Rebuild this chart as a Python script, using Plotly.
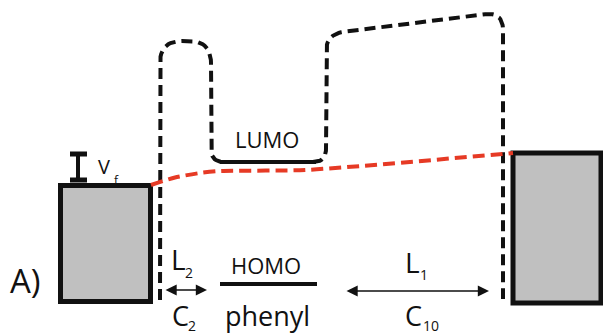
import numpy as np
import plotly.graph_objects as go

# ---- schematic geometry (pixel-like coordinates, y downward) ----
left_box = [60.5, 150.5, 185.5, 301.5]      # x0, x1, y0, y1
right_box = [513, 601, 153, 303]

barrier_x = [160, 160, 211, 211, 326, 326, 503, 503]
barrier_y = [300, 41, 41, 162, 162, 34, 12, 299]
barrier_r = [0, 22, 22, 13, 13, 18, 18, 0]

fermi_x = [151, 175, 200, 220, 305, 513]
fermi_y = [185, 177.5, 173, 171, 170, 153]

lumo_x = [220, 316]
lumo_y = [162, 162]
homo_x = [220, 317]
homo_y = [284, 284]

ibeam_x = [78, 78]
ibeam_y = [154, 180]
ibeam_bar_x = [70, 87]

arrow_L2 = [164, 207, 290]
arrow_L1 = [345, 489, 291]

BLACK = "#111111"
RED = "#e63a25"
GRAY = "#c0c0c0"
FONT = "Open Sans"


def rounded(xs, ys, rs, n=14):
    px, py = [xs[0]], [ys[0]]
    for i in range(1, len(xs) - 1):
        v = np.array([xs[i], ys[i]], float)
        a = np.array([xs[i - 1], ys[i - 1]], float)
        b = np.array([xs[i + 1], ys[i + 1]], float)
        r = rs[i]
        da = (a - v) / np.linalg.norm(a - v)
        db = (b - v) / np.linalg.norm(b - v)
        p0 = v + da * r
        p2 = v + db * r
        t = np.linspace(0, 1, n)[:, None]
        pts = (1 - t) ** 2 * p0 + 2 * (1 - t) * t * v + t ** 2 * p2
        px += list(pts[:, 0]); py += list(pts[:, 1])
    px.append(xs[-1]); py.append(ys[-1])
    return px, py


fig = go.Figure()

bx, by = rounded(barrier_x, barrier_y, barrier_r)
fig.add_trace(go.Scatter(x=bx, y=by, mode="lines",
                         line=dict(color=BLACK, width=4, dash="11px,6px"),
                         hoverinfo="skip"))
fig.add_trace(go.Scatter(x=fermi_x, y=fermi_y, mode="lines",
                         line=dict(color=RED, width=4, dash="12px,6px", shape="spline", smoothing=0.6),
                         hoverinfo="skip"))
fig.add_trace(go.Scatter(x=lumo_x, y=lumo_y, mode="lines",
                         line=dict(color=BLACK, width=4), hoverinfo="skip"))
fig.add_trace(go.Scatter(x=homo_x, y=homo_y, mode="lines",
                         line=dict(color=BLACK, width=4), hoverinfo="skip"))
fig.add_trace(go.Scatter(x=ibeam_x, y=ibeam_y, mode="lines",
                         line=dict(color=BLACK, width=4), hoverinfo="skip"))
for yy in ibeam_y:
    fig.add_trace(go.Scatter(x=ibeam_bar_x, y=[yy, yy], mode="lines",
                             line=dict(color=BLACK, width=5), hoverinfo="skip"))

for bxs in (left_box, right_box):
    fig.add_shape(type="rect", x0=bxs[0], x1=bxs[1], y0=bxs[2], y1=bxs[3],
                  xref="x", yref="y", fillcolor=GRAY,
                  line=dict(color=BLACK, width=5), layer="below")

for a in (arrow_L2, arrow_L1):
    fig.add_annotation(x=a[1], y=a[2], ax=a[0], ay=a[2], xref="x", yref="y",
                       axref="x", ayref="y", text="", showarrow=True,
                       arrowhead=2, arrowside="end+start", arrowsize=1.6,
                       arrowwidth=1.4, arrowcolor=BLACK)


def txt(x, y, s, size, anchor="center"):
    fig.add_annotation(x=x, y=y, text=s, showarrow=False, xref="x", yref="y",
                       xanchor=anchor, yanchor="middle",
                       font=dict(family=FONT, size=size, color=BLACK))


txt(8, 280, "A)", 33, "left")
txt(267, 139, "LUMO", 22)
txt(266, 265, "HOMO", 22)
txt(267, 315, "phenyl", 27)
txt(104, 166, "V", 20)
txt(116, 180, "f", 12)
txt(178, 259, "L", 28)
txt(189, 272, "2", 14)
txt(180, 315, "C", 27)
txt(192, 325, "2", 14)
txt(412, 262, "L", 28)
txt(424, 274, "1", 14)
txt(413, 315, "C", 27)
txt(431, 325, "10", 14)

fig.update_layout(width=603, height=334, margin=dict(l=0, r=0, t=0, b=0),
                  paper_bgcolor="white", plot_bgcolor="white", showlegend=False,
                  xaxis=dict(range=[0, 603], visible=False, fixedrange=True),
                  yaxis=dict(range=[334, 0], visible=False, fixedrange=True))

fig.write_html("out.html", config={"displayModeBar": False},
               post_script="document.body.style.margin='0';document.body.style.overflow='hidden';")
